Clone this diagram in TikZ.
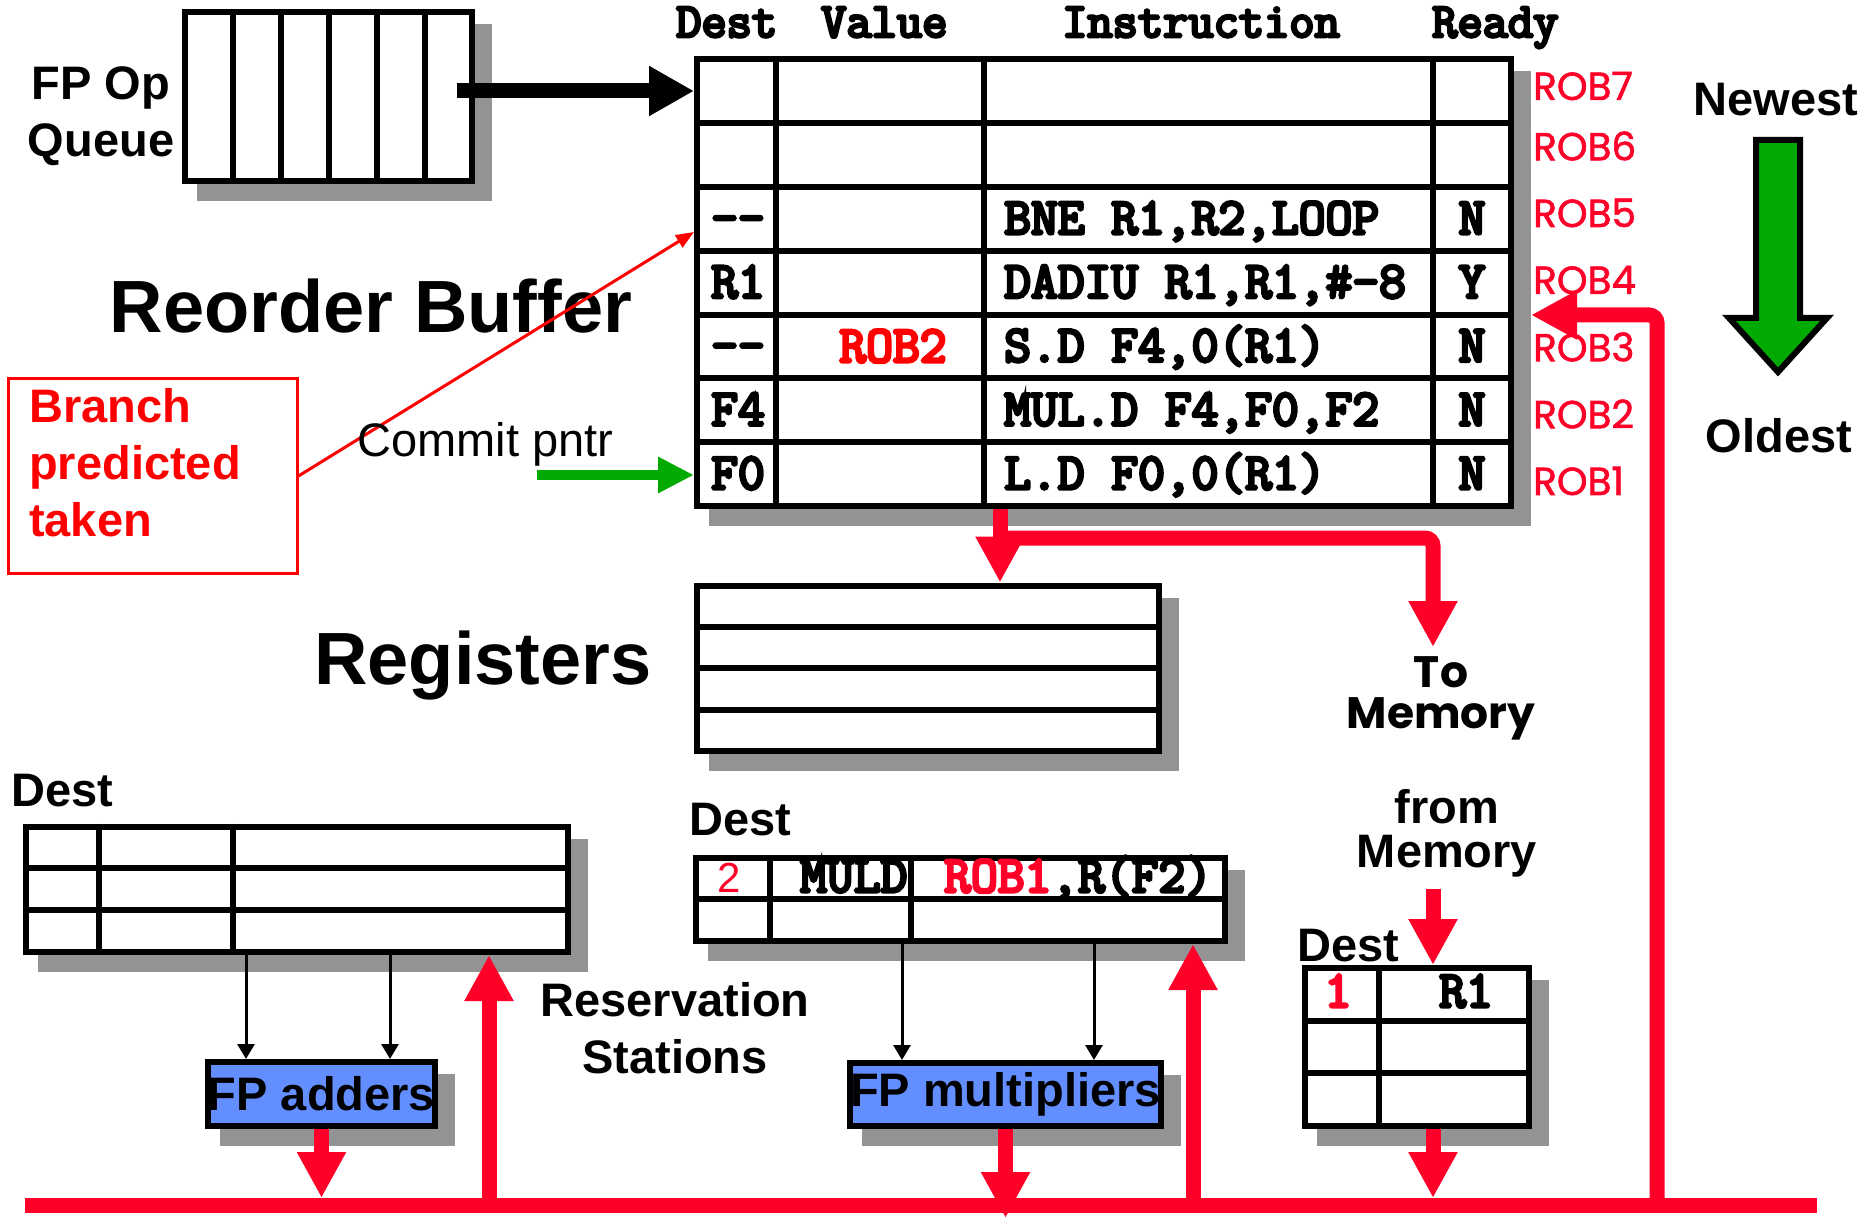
\documentclass[tikz,border=0pt]{standalone}
\usepackage{fontspec}
\setmainfont{Liberation Sans}
\newfontfamily\comicfont{Poppins}
\newfontfamily\robfont{Poppins}[FakeBold=1.5]
\newfontfamily\robmono{Latin Modern Mono}[FakeBold=6]
\usetikzlibrary{arrows.meta,backgrounds}

\definecolor{robred}{RGB}{255,0,41}
\definecolor{shgray}{RGB}{147,147,147}
\definecolor{fpblue}{RGB}{99,142,255}
\definecolor{okgreen}{RGB}{0,170,0}

\tikzset{
  tbl/.style={draw, line width=6pt, fill=white, inner sep=0pt},
  tline/.style={line width=6pt},
  fpunit/.style={tbl, fill=fpblue, font=\fontsize{47}{56}\selectfont\bfseries},
  lbl/.style={font=\fontsize{47}{57}\selectfont\bfseries, inner sep=0pt},
  big/.style={font=\fontsize{74}{80}\selectfont\bfseries, inner sep=0pt},
  mono/.style={font=\fontsize{52}{60}\selectfont\robmono, inner sep=0pt},
  head/.style={font=\fontsize{49}{56}\selectfont\robmono, inner sep=0pt, anchor=base west},
  robl/.style={font=\fontsize{39}{44}\selectfont\robfont, text=robred, inner sep=0pt, anchor=west},
  bus/.style={robred, line width=15pt},
  redarr/.style={bus, -{Triangle[length=46pt,width=46pt]}},
  thinarr/.style={line width=3pt, -{Triangle[length=15pt,width=17pt]}}
}

\begin{document}
\begin{tikzpicture}[x=1pt,y=-1pt]
\useasboundingbox (0,0) rectangle (1866,1222);

% Coda

\node[tbl, minimum width=287pt, minimum height=169pt] (q) at (328.5,96.5) {};
\foreach \xx in {233,281,329,377,425}
  \draw[tline] (\xx,0 |- q.north) -- (\xx,0 |- q.south);
\node[lbl, align=center, anchor=base] (qt) at (101,157) {FP Op\\Queue};

% Reorder buffer

\node[tbl, minimum width=814pt, minimum height=446.5pt] (rob) at (1104,282.75) {};
\foreach \yy in {123.3,187.1,250.9,314.6,378.4,442.2}
  \draw[tline] (rob.west |- 0,\yy) -- (rob.east |- 0,\yy);
\foreach \xx in {776,984,1433}
  \draw[tline] (\xx,0 |- rob.north) -- (\xx,0 |- rob.south);

\node[head] (hd) at (676,37) {Dest};
\node[head] (hv) at (821,37) {Value};
\node[head] (hi) at (1062,37) {Instruction};
\node[head] (hr) at (1432,37) {Ready};

\foreach \k/\dst/\ins/\rdy [evaluate=\k as \yy using 74.5+(\k-0.5)*63.79] in
  {3/-{}-/{BNE R1,R2,LOOP}/N, 4/R1/{DADIU R1,R1,\#-8}/Y, 5/-{}-/{S.D F4,0(R1)}/N,
   6/F4/{MUL.D F4,F0,F2}/N, 7/F0/{L.D F0,0(R1)}/N}
{
  \node[mono, anchor=base] (d\k) at (738,\yy) {\dst};
  \node[mono, anchor=base west] (i\k) at (1004,\yy) {\ins};
  \node[mono, anchor=base] (y\k) at (1472,\yy) {\rdy};
}
\node[mono, text=red, anchor=base] (v5) at (893,362) {ROB2};

\foreach \n/\yy in {7/86,6/146,5/213,4/280,3/347,2/414,1/481}
  \node[robl] (rob\n) at (1533,\yy) {ROB\n};

\node[big, anchor=base] (robt) at (371,333) {Reorder Buffer};

\node[lbl, anchor=base] (new) at (1776,116) {Newest};
\node[lbl, anchor=base] (old) at (1779,452) {Oldest};
\draw[line width=6pt, fill=okgreen] (1756,140) -- (1800,140) -- (1800,318) -- (1827,318)
  -- (1778,372) -- (1729,318) -- (1756,318) -- cycle;

\coordinate (qs) at (457,91);
\draw[line width=15pt, -{Triangle[length=45pt,width=47pt]}] (qs) -- (qs -| rob.west);

% Branch e commit

\node[draw=red, line width=3pt, minimum width=289pt, minimum height=194pt] (br) at (152.5,476) {};
\node[lbl, text=red, align=left, anchor=base west] (brt) at (29,536) {Branch\\predicted\\taken};
\coordinate (bt) at (0,232);
\draw[red, line width=3pt, -{Triangle[length=18pt,width=14pt]}] (br.east) -- (bt -| rob.west);

\node[font=\fontsize{47}{56}\selectfont, inner sep=0pt, anchor=base west] (cp) at (357,456) {Commit pntr};
\coordinate (cs) at (537,475);
\draw[okgreen, line width=10pt, -{Triangle[length=36pt,width=34pt]}] (cs) -- (cs -| rob.west);

% Registri

\node[tbl, minimum width=462pt, minimum height=165.5pt] (reg) at (928,668.25) {};
\foreach \yy in {626.5,668,710}
  \draw[tline] (reg.west |- 0,\yy) -- (reg.east |- 0,\yy);
\node[big, anchor=base] (regt) at (483,684) {Registers};

\coordinate (wb) at (1000,538);
\coordinate (tm) at (1433,647);
\draw[redarr] (wb |- rob.south) -- (wb |- reg.north);
\draw[redarr, rounded corners=8pt] (wb) -| (tm);
\node[font=\fontsize{44}{41}\selectfont\comicfont\bfseries, align=center, inner sep=0pt, anchor=base]
  (tmt) at (1441,728) {To\\Memory};

% Stazioni di prenotazione

\node[lbl, anchor=base west] (da) at (11,806) {Dest};
\node[tbl, minimum width=542pt, minimum height=125.5pt] (rsa) at (297,889.25) {};
\foreach \yy in {868,910}
  \draw[tline] (rsa.west |- 0,\yy) -- (rsa.east |- 0,\yy);
\foreach \xx in {99,233}
  \draw[tline] (\xx,0 |- rsa.north) -- (\xx,0 |- rsa.south);
\node[fpunit, minimum width=221pt, minimum height=64pt] (fpa) at (321.5,1094) {FP adders};
\foreach \xx in {246,390}
  \draw[thinarr] (\xx,0 |- rsa.south) -- (\xx,0 |- fpa.north);

\node[lbl, anchor=base west] (dm) at (689,835) {Dest};
\node[tbl, minimum width=529pt, minimum height=83pt] (rsm) at (960.5,899.5) {};
\draw[tline] (rsm.west |- 0,899) -- (rsm.east |- 0,899);
\foreach \xx in {770,911}
  \draw[tline] (\xx,0 |- rsm.north) -- (\xx,0 |- rsm.south);
\node[font=\fontsize{42}{50}\selectfont, text=robred, inner sep=0pt, anchor=base] (m2) at (729,892) {2};
\node[mono, anchor=base west] (mop) at (800,892) {MULD};
\node[mono, anchor=base west] (msrc) at (944,892) {\textcolor{robred}{ROB1},R(F2)};
\node[fpunit, minimum width=305pt, minimum height=63pt] (fpm) at (1005.5,1094.5) {FP multipliers};
\foreach \xx in {902,1094}
  \draw[thinarr] (\xx,0 |- rsm.south) -- (\xx,0 |- fpm.north);

\node[lbl, align=center, anchor=base] (rst) at (675,1073) {Reservation\\Stations};

% Buffer di memoria

\node[lbl, font=\fontsize{47}{44}\selectfont\bfseries, align=center, anchor=base] (fmt) at (1447,867) {from\\Memory};
\node[lbl, anchor=base west] (dl) at (1297,961) {Dest};
\node[tbl, minimum width=224pt, minimum height=158pt] (mem) at (1417,1047) {};
\foreach \yy in {1021,1073}
  \draw[tline] (mem.west |- 0,\yy) -- (mem.east |- 0,\yy);
\draw[tline] (1379,0 |- mem.north) -- (1379,0 |- mem.south);
\node[mono, text=robred, anchor=base] (l1) at (1338,1007) {1};
\node[mono, anchor=base] (l2) at (1466,1007) {R1};

% Bus

\coordinate (busl) at (25,1205);
\coordinate (busr) at (1817,1205);
\coordinate (bustop) at (25,1198);
\coordinate (busbot) at (25,1218);
\draw[bus] (busl) -- (busr);

\draw[redarr] (fpa.south) -- (fpa.south |- bustop);
\draw[redarr] (fpm.south) -- (fpm.south |- busbot);
\coordinate (ra) at (489,1198);
\draw[redarr] (ra) -- (ra |- rsa.south);
\coordinate (rm) at (1193,1198);
\draw[redarr] (rm) -- (rm |- rsm.south);
\coordinate (fm) at (1433,889);
\draw[redarr] (fm) -- (fm |- mem.north);
\draw[redarr] (fm |- mem.south) -- (fm |- bustop);
\coordinate (rr) at (1657,1205);
\coordinate (rt) at (1531,315);
\draw[redarr, rounded corners=8pt] (rr) |- (rt);

% Ombre

\begin{scope}[on background layer]
\foreach \n in {q,rob,reg,rsa,rsm,mem,fpa,fpm}
  \fill[shgray] ([shift={(15pt,-15pt)}]\n.north west) rectangle ([shift={(17pt,-17pt)}]\n.south east);
\end{scope}

\end{tikzpicture}
\end{document}
